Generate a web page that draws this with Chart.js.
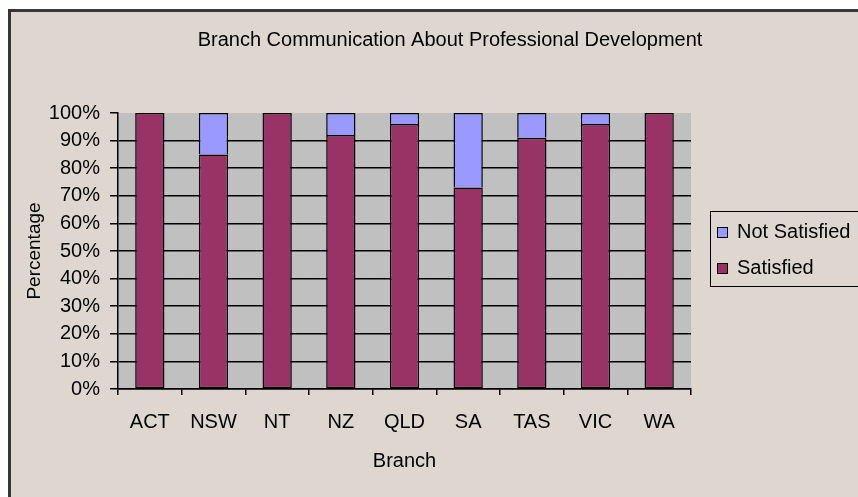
<!DOCTYPE html>
<html>
<head>
<meta charset="utf-8">
<title>Branch Communication About Professional Development</title>
<script src="https://cdn.jsdelivr.net/npm/chart.js@4.4.0/dist/chart.umd.min.js"></script>
<style>
    html, body { margin: 0; padding: 0; background: #ffffff; overflow: hidden; }
    /* the original chart is cropped on the right and bottom, so the canvas is a bit wider than the window */
    .wrap { position: relative; width: 858px; height: 497px; overflow: hidden; }
    .frame {
        position: absolute; left: 8px; top: 9px; width: 940px; height: 560px;
        border: 3px solid #363636; background: #ddd7d0;
    }
    canvas { position: absolute; left: 0; top: 0; }
</style>
</head>
<body>
<div class="wrap">
    <div class="frame"></div>
    <canvas id="branchChart" width="892" height="497"></canvas>
</div>
<script>
// --- data ---
const branches = ['ACT', 'NSW', 'NT', 'NZ', 'QLD', 'SA', 'TAS', 'VIC', 'WA'];
const satisfied = [100, 85, 100, 92, 96, 73, 91, 96, 100];
const notSatisfied = [0, 15, 0, 8, 4, 27, 9, 4, 0];
const yTicks = [0, 10, 20, 30, 40, 50, 60, 70, 80, 90, 100];

const satisfiedColor = '#993366';
const notSatisfiedColor = '#9999ff';
const plotColor = '#c0c0c0';

Chart.defaults.font.family = "'Liberation Sans', Arial, sans-serif";
Chart.defaults.font.size = 20;
Chart.defaults.color = '#000';

// grey plot area behind the bars
const plotBackground = {
    id: 'plotBackground',
    beforeDraw(chart) {
        const a = chart.chartArea;
        const ctx = chart.ctx;
        ctx.save();
        ctx.fillStyle = plotColor;
        ctx.fillRect(a.left, a.top, a.right - a.left, a.bottom - a.top);
        ctx.restore();
    }
};

// Excel style legend in a box, top series first
const boxedLegend = {
    id: 'boxedLegend',
    afterDraw(chart) {
        const ctx = chart.ctx;
        const items = chart.data.datasets.slice().reverse();
        ctx.save();
        ctx.strokeStyle = '#000';
        ctx.lineWidth = 1;
        ctx.strokeRect(710.5, 211.5, 172, 75);
        ctx.font = "20px 'Liberation Sans', Arial, sans-serif";
        ctx.textBaseline = 'middle';
        items.forEach((d, i) => {
            const y = 232 + i * 36;
            ctx.fillStyle = d.backgroundColor;
            ctx.fillRect(717, y - 5, 10, 10);
            ctx.strokeRect(717.5, y - 4.5, 10, 10);
            ctx.fillStyle = '#000';
            ctx.fillText(d.label, 737, y);
        });
        ctx.restore();
    }
};

new Chart(document.getElementById('branchChart'), {
    type: 'bar',
    data: {
        labels: branches,
        datasets: [
            {
                label: 'Satisfied',
                data: satisfied,
                backgroundColor: satisfiedColor,
                borderColor: '#000',
                borderWidth: 1.5,
                borderSkipped: false
            },
            {
                label: 'Not Satisfied',
                data: notSatisfied,
                backgroundColor: notSatisfiedColor,
                borderColor: '#000',
                borderWidth: 1.5,
                borderSkipped: 'start'
            }
        ]
    },
    options: {
        responsive: false,
        animation: false,
        layout: { padding: { left: 8, right: 0, top: 0, bottom: 0 } },
        datasets: { bar: { barPercentage: 0.46, categoryPercentage: 1 } },
        scales: {
            x: {
                stacked: true,
                afterFit(scale) { scale.height = 108; },
                border: { display: true, color: '#000', width: 1.5 },
                grid: { offset: true, drawOnChartArea: false, drawTicks: true, tickLength: 6, tickColor: '#000', lineWidth: 1.5 },
                ticks: { padding: 15, maxRotation: 0 },
                title: { display: true, text: 'Branch', padding: { top: 0, bottom: 24 } }
            },
            y: {
                stacked: true,
                min: 0,
                max: 100,
                afterFit(scale) { scale.width = 110; },
                afterBuildTicks(scale) { scale.ticks = yTicks.map(v => ({ value: v })); },
                border: { display: true, color: '#000', width: 1.5 },
                grid: {
                    color: ctx => (ctx.tick && ctx.tick.value === 100 ? 'transparent' : '#000'),
                    tickColor: '#000',
                    tickLength: 8,
                    lineWidth: 1.5
                },
                ticks: { padding: 10, callback: v => v + '%' },
                title: { display: true, text: 'Percentage', font: { size: 19 }, padding: { top: 15, bottom: 0 } }
            },
            // empty space on the right where the legend sits
            legendSpace: {
                type: 'linear',
                axis: 'y',
                position: 'right',
                afterFit(scale) { scale.width = 201; },
                grid: { display: false },
                border: { display: false },
                ticks: { display: false }
            }
        },
        plugins: {
            legend: { display: false },
            tooltip: { enabled: false },
            title: {
                display: true,
                text: 'Branch Communication About Professional Development',
                font: { size: 20, weight: 'normal', lineHeight: 1.2 },
                padding: { top: 28, bottom: 61 }
            }
        }
    },
    plugins: [plotBackground, boxedLegend]
});
</script>
</body>
</html>
